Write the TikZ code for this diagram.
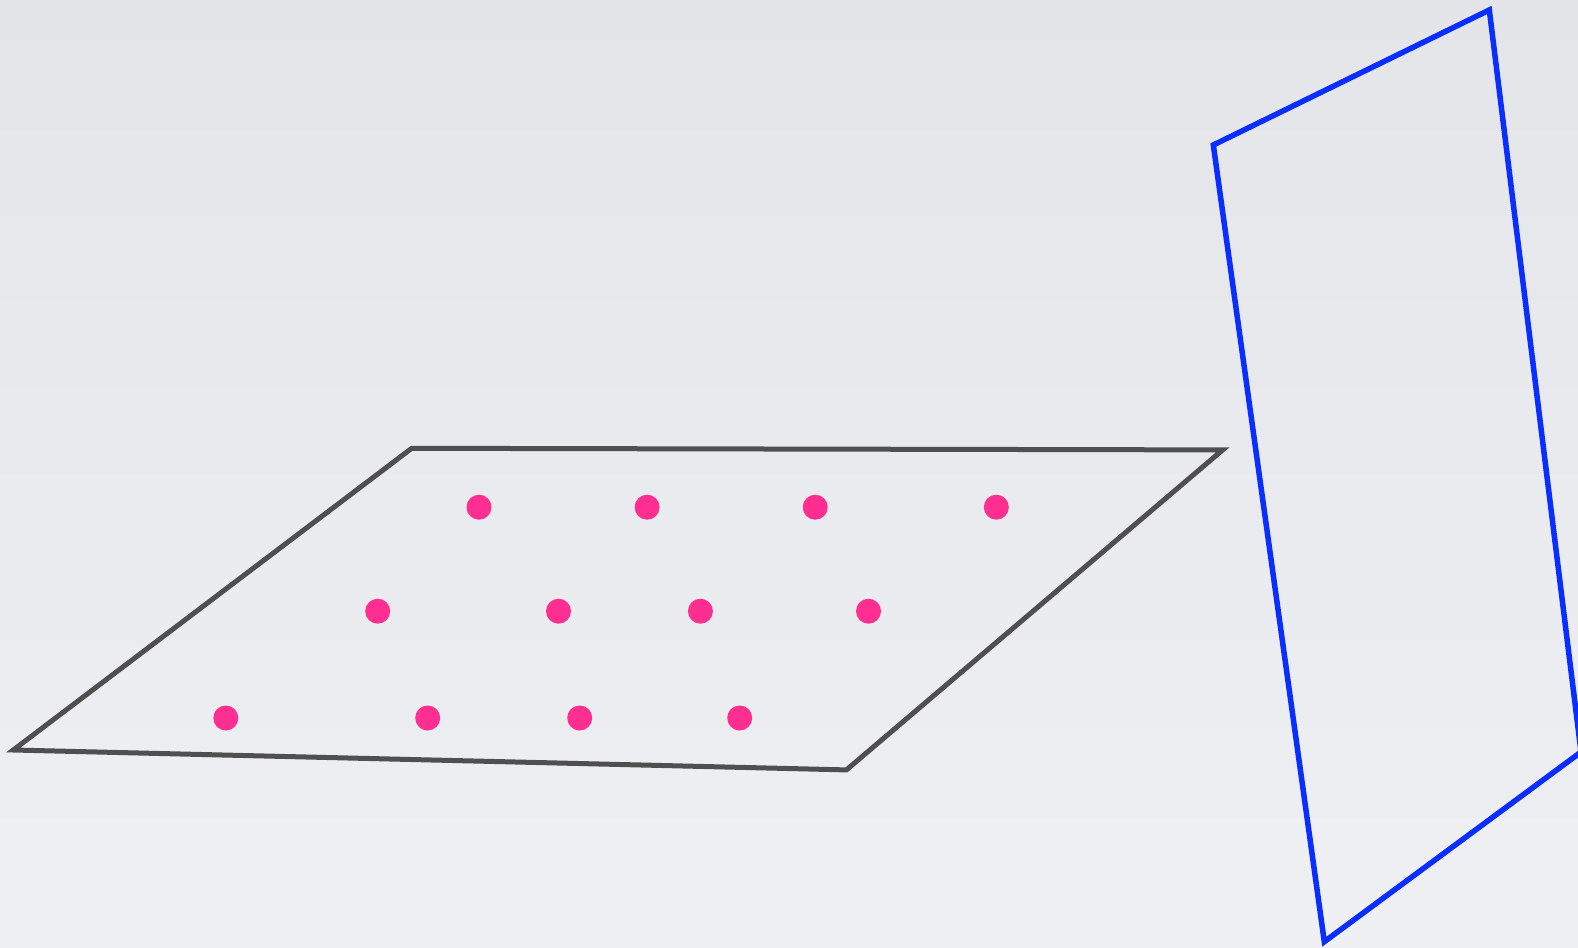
\documentclass[tikz,border=0pt]{standalone}
\usetikzlibrary{calc}
\definecolor{bgtop}{HTML}{E4E5E9}
\definecolor{bgbot}{HTML}{EFF0F3}
\definecolor{planegrey}{HTML}{4F4F4F}
\definecolor{planeblue}{HTML}{0A2EFF}
\definecolor{dotpink}{HTML}{FF2F92}
\tikzset{
  plane/.style={draw=planegrey, line width=5pt, line join=miter},
  bplane/.style={draw=planeblue, line width=5.5pt, line join=miter},
  pdot/.style={circle, fill=dotpink, inner sep=0pt, minimum size=25pt}
}
\begin{document}
\begin{tikzpicture}[x=1pt,y=-1pt]
\useasboundingbox (0,0) rectangle (1578,947);
\clip (0,0) rectangle (1578,947);
\shade[top color=bgtop, bottom color=bgbot] (0,0) rectangle (1578,947);
% horizontal plane
\coordinate (g1) at (411.7,448.3);
\coordinate (g2) at (1222.7,449.9);
\coordinate (g3) at (846.4,769.9);
\coordinate (g4) at (13.3,750);
\draw[plane] (g1) -- (g2) -- (g3) -- (g4) -- cycle;
% vertical plane
\coordinate (b1) at (1213.3,145);
\coordinate (b2) at (1489.3,10);
\coordinate (b3) at (1581,752);
\coordinate (b4) at (1324.3,941.7);
\draw[bplane] (b1) -- (b2) -- (b3) -- (b4) -- cycle;
% dots
\node[pdot] (d11) at (479.0,507.2) {};
\node[pdot] (d12) at (647.1,507.2) {};
\node[pdot] (d13) at (815.2,507.2) {};
\node[pdot] (d14) at (996.3,507.2) {};
\node[pdot] (d21) at (377.7,611.2) {};
\node[pdot] (d22) at (558.5,611.2) {};
\node[pdot] (d23) at (700.4,611.2) {};
\node[pdot] (d24) at (868.5,611.2) {};
\node[pdot] (d31) at (225.8,718.0) {};
\node[pdot] (d32) at (427.7,718.0) {};
\node[pdot] (d33) at (579.7,718.0) {};
\node[pdot] (d34) at (739.7,718.0) {};
\end{tikzpicture}
\end{document}
